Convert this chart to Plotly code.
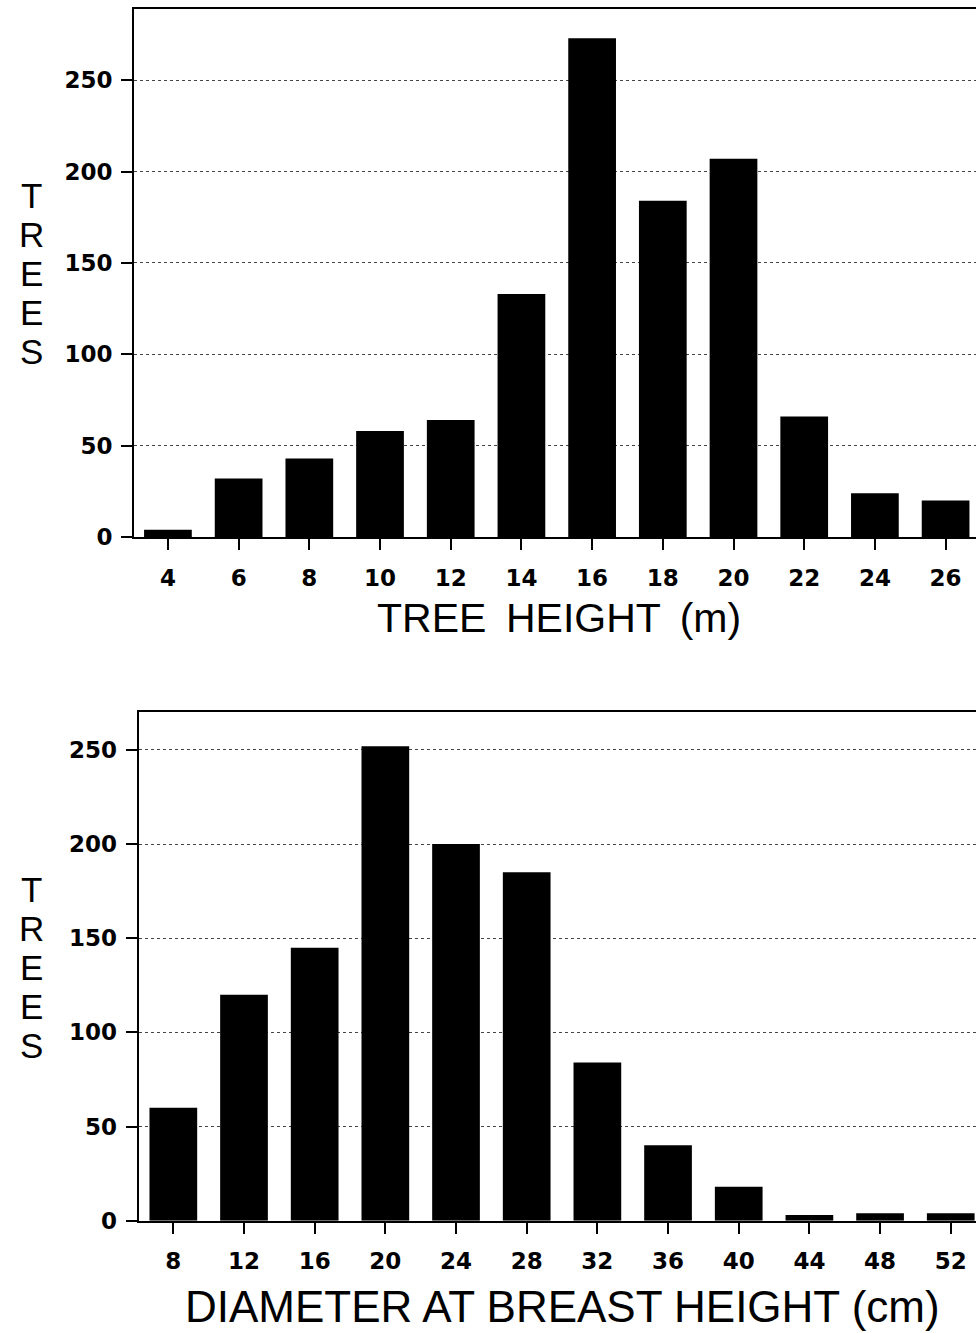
import plotly.graph_objects as go

# ---- data ----
height_classes = [4, 6, 8, 10, 12, 14, 16, 18, 20, 22, 24, 26]
height_trees = [4, 32, 43, 58, 64, 133, 273, 184, 207, 66, 24, 20]

dbh_classes = [8, 12, 16, 20, 24, 28, 32, 36, 40, 44, 48, 52]
dbh_trees = [60, 120, 145, 252, 200, 185, 84, 40, 18, 3, 4, 4]

y_ticks = [0, 50, 100, 150, 200, 250]

top_title = "TREE \u2009HEIGHT \u2009(m)"
bottom_title = "DIAMETER AT BREAST HEIGHT (cm)"
y_title_letters = ["T", "R", "E", "E", "S"]

# ---- layout helpers (pixel -> paper) ----
W, H = 976, 1333


def fx(p):
    return p / W


def fy(p):
    return 1 - p / H


tick_font = dict(family="DejaVu Sans", size=23, color="black", weight="bold")
title_font = dict(family="Liberation Sans, Arial", size=41, color="black")
bottom_title_font = dict(family="Liberation Sans, Arial", size=44, color="black")
letter_font = dict(family="Liberation Sans, Arial", size=35, color="black")

fig = go.Figure()
fig.add_bar(x=height_classes, y=height_trees, width=1.35,
            marker=dict(color="black", line=dict(width=0)),
            xaxis="x", yaxis="y")
fig.add_bar(x=dbh_classes, y=dbh_trees, width=2.7,
            marker=dict(color="black", line=dict(width=0)),
            xaxis="x2", yaxis="y2")


def xaxis(domain, rng, vals, anchor):
    return dict(domain=domain, range=rng, tickvals=vals, ticktext=[str(v) for v in vals],
                ticks="outside", ticklen=11, tickwidth=1.5, tickcolor="black",
                showline=True, linecolor="black", linewidth=2, mirror=True,
                showgrid=False, zeroline=False, anchor=anchor,
                tickfont=tick_font, ticklabelstandoff=8, fixedrange=True)


def yaxis(domain, rng, anchor):
    return dict(domain=domain, range=rng, tickvals=y_ticks, ticktext=[str(v) for v in y_ticks],
                ticks="outside", ticklen=11, tickwidth=1.5, tickcolor="black",
                showline=True, linecolor="black", linewidth=2,
                showgrid=True, gridcolor="#444", gridwidth=1, griddash="dot",
                zeroline=False, anchor=anchor,
                tickfont=tick_font, ticklabelstandoff=4, fixedrange=True)


top_plot = dict(left=134, top=9, bottom=542.3)
bot_plot = dict(left=138.7, top=719.3, bottom=1232.7)

annotations = [
    dict(text=top_title, x=fx(558.5), y=fy(624.5), xref="paper", yref="paper",
         xanchor="center", yanchor="middle", showarrow=False, font=title_font),
    dict(text=bottom_title, x=fx(562.5), y=fy(1319), xref="paper", yref="paper",
         xanchor="center", yanchor="middle", showarrow=False, font=bottom_title_font),
]
letter_step = 39.4
for plot in (top_plot, bot_plot):
    cy = (plot["top"] + plot["bottom"]) / 2
    n = len(y_title_letters)
    for i, ch in enumerate(y_title_letters):
        annotations.append(dict(text=ch, x=fx(31), y=fy(cy + (i - (n - 1) / 2) * letter_step + 1),
                                xref="paper", yref="paper", xanchor="center", yanchor="middle",
                                showarrow=False, font=letter_font))

fig.update_layout(
    width=W, height=H,
    margin=dict(l=0, r=0, t=0, b=0),
    paper_bgcolor="white", plot_bgcolor="white",
    showlegend=False,
    xaxis=xaxis([fx(top_plot["left"]), 1], [3.04, 26.86], height_classes, "y"),
    yaxis=yaxis([fy(top_plot["bottom"]), fy(top_plot["top"])], [0, 289], "x"),
    xaxis2=xaxis([fx(bot_plot["left"]), 1], [6.04, 53.43], dbh_classes, "y2"),
    yaxis2=yaxis([fy(bot_plot["bottom"]), fy(bot_plot["top"])], [0, 270], "x2"),
    annotations=annotations,
)

fig.write_html("out.html", config={"displayModeBar": False},
               post_script="document.body.style.margin='0';")
